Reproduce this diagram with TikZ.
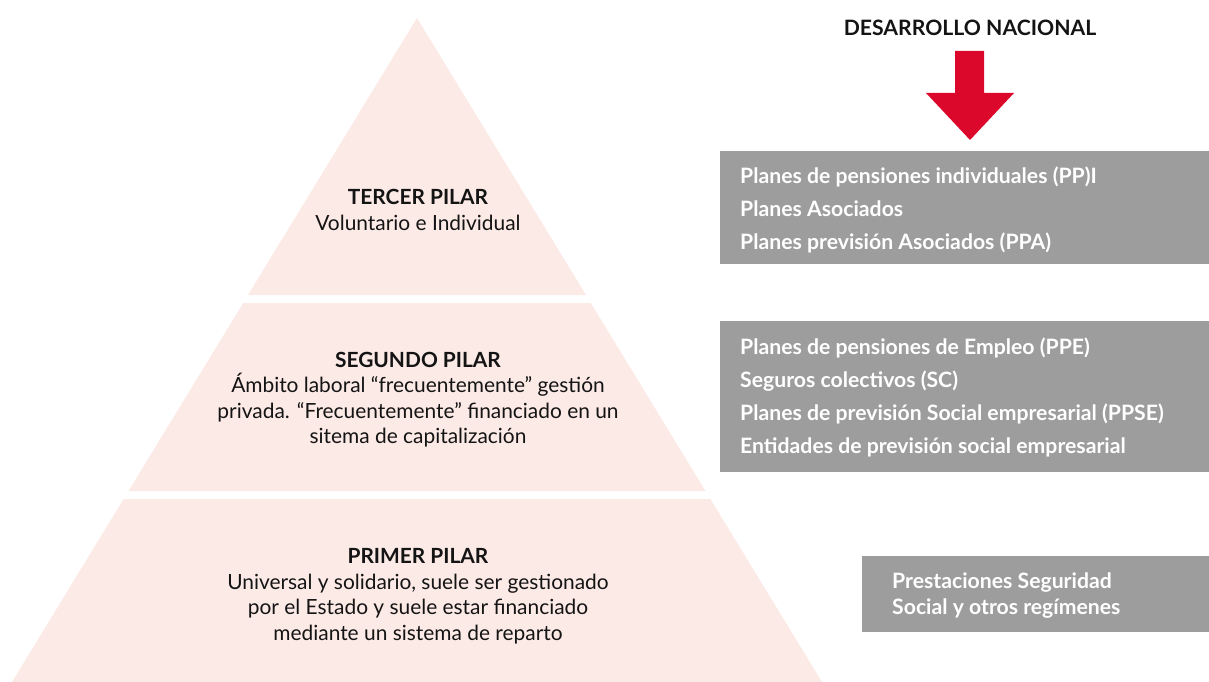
\documentclass[tikz,border=0pt]{standalone}
\usepackage{fontspec}
\setmainfont{Lato}
\definecolor{pinkfill}{RGB}{252,234,230}
\definecolor{boxgray}{RGB}{157,157,157}
\definecolor{arrowred}{RGB}{220,8,44}
\definecolor{txt}{RGB}{20,20,20}
\begin{document}
\begin{tikzpicture}[x=1pt,y=-1pt,
  tier/.style={fill=pinkfill,draw=none},
  graybox/.style={fill=boxgray,draw=none},
  pyrtext/.style={align=center,font=\fontsize{20.9}{25.5}\selectfont,text=txt,inner sep=0pt},
  boxtext/.style={align=left,anchor=west,font=\bfseries\fontsize{21.2}{33}\selectfont,text=white,inner sep=0pt},
  title/.style={font=\bfseries\fontsize{21.2}{25}\selectfont,text=txt,inner sep=0pt}]
\useasboundingbox (0,0) rectangle (1209,682);
% pyramid tiers
\fill[tier] (417,18) -- (586,295) -- (248,295) -- cycle;
\fill[tier] (243.2,303) -- (590.8,303) -- (705.5,491) -- (128.5,491) -- cycle;
\fill[tier] (123.6,499) -- (710.4,499) -- (822,682) -- (12,682) -- cycle;
% pyramid texts
\node[pyrtext] (t3) at (418,210) {\textbf{TERCER PILAR}\\Voluntario e Individual};
\node[pyrtext] (t2) at (418,399.5) {\textbf{SEGUNDO PILAR}\\Ámbito laboral “frecuentemente” gestión\\privada. “Frecuentemente” financiado en un\\sitema de capitalización};
\node[pyrtext] (t1) at (418,596) {\textbf{PRIMER PILAR}\\Universal y solidario, suele ser gestionado\\por el Estado y suele estar financiado\\mediante un sistema de reparto};
% gray boxes
\fill[graybox] (720,151) rectangle (1209,264);
\fill[graybox] (720,321) rectangle (1209,472);
\fill[graybox] (862,556) rectangle (1209,632);
\node[boxtext] (b3) at (740,210) {Planes de pensiones individuales (PP)I\\Planes Asociados\\Planes previsión Asociados (PPA)};
\node[boxtext] (b2) at (740,397.5) {Planes de pensiones de Empleo (PPE)\\Seguros colectivos (SC)\\Planes de previsión Social empresarial (PPSE)\\Entidades de previsión social empresarial};
\node[boxtext,font=\bfseries\fontsize{21.2}{26}\selectfont] (b1) at (892,596) {Prestaciones Seguridad\\Social y otros regímenes};
% title and arrow
\node[title] (ttl) at (970,28) {DESARROLLO NACIONAL};
\fill[arrowred] (955,51) -- (984,51) -- (984,93) -- (1014,93) -- (970,140) -- (926,93) -- (955,93) -- cycle;
\end{tikzpicture}
\end{document}
